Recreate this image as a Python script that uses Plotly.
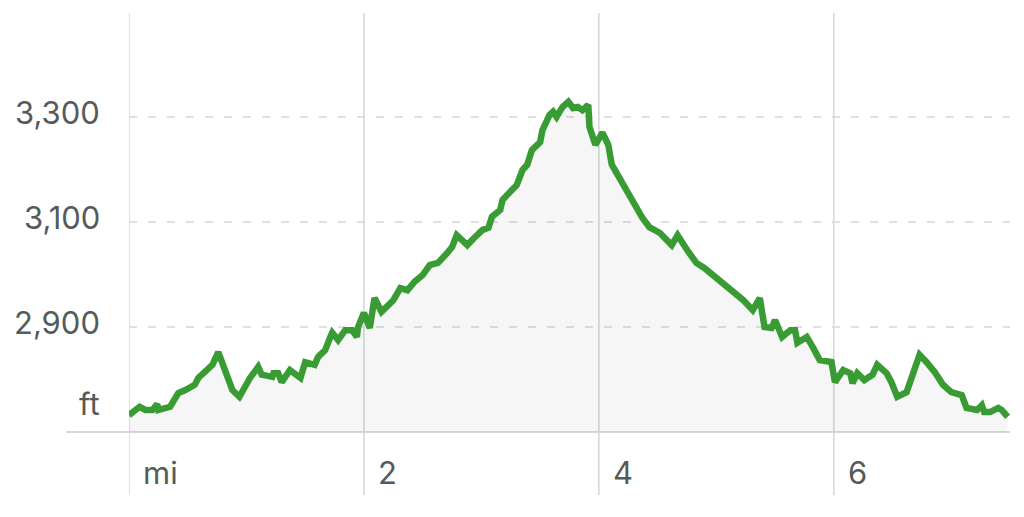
import plotly.graph_objects as go

# Distance (mi) and elevation (ft)
miles = [0.00, 0.09, 0.14, 0.20, 0.24, 0.25, 0.35, 0.42, 0.48, 0.56, 0.59, 0.65, 0.69, 0.71, 0.76,
         0.82, 0.88, 0.94, 0.99, 1.03, 1.10, 1.13, 1.22, 1.23, 1.27, 1.30, 1.37, 1.46, 1.50, 1.58,
         1.61, 1.67, 1.71, 1.73, 1.78, 1.84, 1.90, 1.94, 1.95, 2.00, 2.05, 2.09, 2.15, 2.25, 2.31,
         2.37, 2.43, 2.50, 2.56, 2.63, 2.71, 2.75, 2.79, 2.88, 2.94, 3.01, 3.06, 3.09, 3.16, 3.18,
         3.26, 3.30, 3.35, 3.39, 3.43, 3.50, 3.52, 3.58, 3.61, 3.64, 3.69, 3.74, 3.78, 3.82, 3.86,
         3.91, 3.92, 3.97, 4.03, 4.08, 4.11, 4.15, 4.20, 4.26, 4.31, 4.37, 4.43, 4.52, 4.62, 4.67,
         4.75, 4.83, 4.90, 4.97, 5.06, 5.14, 5.23, 5.31, 5.37, 5.41, 5.47, 5.50, 5.56, 5.63, 5.67,
         5.69, 5.77, 5.82, 5.88, 5.98, 6.01, 6.08, 6.14, 6.16, 6.20, 6.26, 6.33, 6.37, 6.45, 6.49,
         6.54, 6.62, 6.67, 6.73, 6.79, 6.86, 6.93, 7.00, 7.09, 7.13, 7.22, 7.26, 7.28, 7.33, 7.40,
         7.43, 7.48]
elev_ft = [2732, 2748, 2742, 2742, 2753, 2742, 2748, 2774, 2780, 2790, 2803, 2814, 2824, 2828, 2852,
           2812, 2780, 2767, 2790, 2803, 2824, 2809, 2805, 2812, 2812, 2795, 2818, 2803, 2833, 2828,
           2843, 2856, 2879, 2889, 2875, 2894, 2894, 2881, 2900, 2927, 2898, 2955, 2929, 2951, 2974,
           2970, 2986, 2999, 3018, 3022, 3041, 3052, 3075, 3056, 3070, 3085, 3089, 3110, 3123, 3142,
           3161, 3170, 3199, 3209, 3237, 3252, 3275, 3304, 3310, 3300, 3319, 3329, 3317, 3319, 3313,
           3323, 3281, 3247, 3270, 3247, 3209, 3193, 3174, 3155, 3129, 3108, 3090, 3079, 3056, 3075,
           3047, 3022, 3012, 2999, 2984, 2970, 2951, 2932, 2955, 2900, 2898, 2913, 2881, 2894, 2894,
           2870, 2881, 2862, 2837, 2833, 2795, 2818, 2812, 2793, 2812, 2799, 2809, 2828, 2812, 2795,
           2767, 2776, 2812, 2847, 2833, 2814, 2790, 2776, 2770, 2746, 2742, 2751, 2738, 2738, 2746,
           2742, 2729]

y_ticks = [2900, 3100, 3300]
y_labels = ["2,900", "3,100", "3,300"]
x_ticks = [0, 2, 4, 6]
x_labels = ["mi", "2", "4", "6"]
base_ft = 2700

FONT = "Inter"
TXT = "#555a5a"
GRID = "#d3d7d7"

fig = go.Figure()
fig.add_trace(go.Scatter(x=[miles[0], miles[-1]], y=[base_ft, base_ft], mode="lines",
                         line=dict(width=0), hoverinfo="skip", showlegend=False))
fig.add_trace(go.Scatter(x=miles, y=elev_ft, mode="lines", fill="tonexty",
                         fillcolor="rgba(0,0,0,0.035)",
                         line=dict(color="#399b34", width=6.5, shape="linear"),
                         showlegend=False))

shapes = []
for xv in x_ticks:
    shapes.append(dict(type="line", xref="x", yref="paper", x0=xv, x1=xv, y0=0, y1=1,
                       line=dict(color=GRID, width=1.5), layer="below"))
for yv in y_ticks:
    shapes.append(dict(type="line", xref="paper", yref="y", x0=0, x1=1, y0=yv, y1=yv,
                       line=dict(color=GRID, width=1.5, dash="8px,11px"), layer="below"))
shapes.append(dict(type="line", xref="paper", yref="y", x0=-0.0715, x1=1, y0=base_ft, y1=base_ft,
                   line=dict(color="#d6d8d8", width=2), layer="below"))

annotations = []
for yv, lab in zip(y_ticks, y_labels):
    annotations.append(dict(xref="paper", yref="y", x=-0.0306, y=yv, text=lab, showarrow=False,
                            xanchor="right", yanchor="middle", yshift=4,
                            font=dict(family=FONT, size=31, color=TXT)))
annotations.append(dict(xref="paper", yref="y", x=-0.0306, y=2755, text="ft", showarrow=False,
                        xanchor="right", yanchor="middle",
                        font=dict(family=FONT, size=31, color=TXT)))
for xv, lab in zip(x_ticks, x_labels):
    annotations.append(dict(xref="x", yref="y", x=xv, y=2622, text=lab, showarrow=False,
                            xanchor="left", yanchor="middle", xshift=12,
                            font=dict(family=FONT, size=31, color=TXT)))

fig.update_layout(
    width=1024, height=517,
    margin=dict(l=121, r=22, t=5, b=30),
    paper_bgcolor="white", plot_bgcolor="white",
    xaxis=dict(range=[0, 7.5], showgrid=False, zeroline=False, showticklabels=False,
               showline=False, fixedrange=True),
    yaxis=dict(range=[2580, 3498], showgrid=False, zeroline=False, showticklabels=False,
               showline=False, fixedrange=True),
    shapes=shapes, annotations=annotations,
)

fig.write_html("out.html")
